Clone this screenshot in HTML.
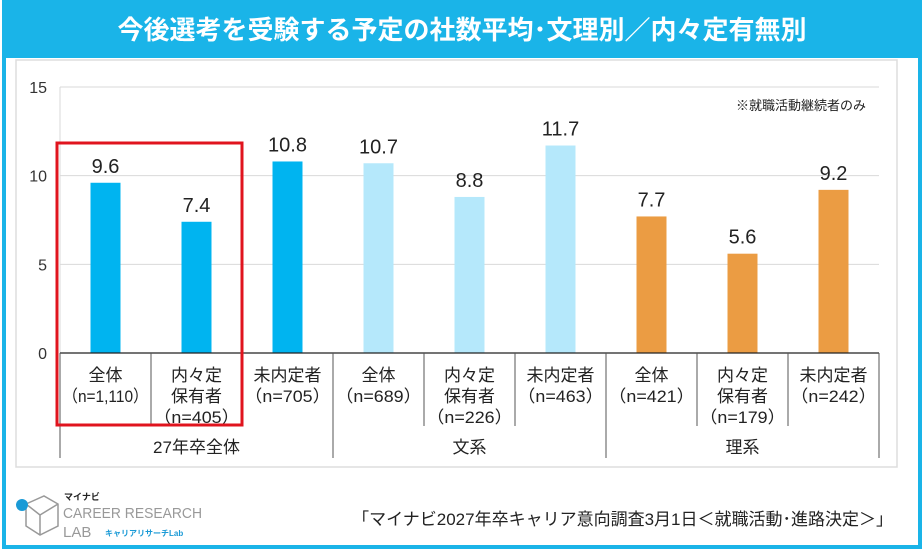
<!DOCTYPE html>
<html><head><meta charset="utf-8"><style>
body{margin:0;width:922px;height:555px;overflow:hidden;background:#fff;font-family:"Liberation Sans","Noto Sans CJK JP",sans-serif;}
#frame{position:absolute;left:2px;top:0;width:912px;height:545px;border:4px solid #1ab4e8;border-top:none;background:#fff;}
#title{position:absolute;left:2px;top:0;width:920px;height:58px;background:#1ab4e8;color:#fff;font-size:26px;font-weight:bold;text-align:center;line-height:60px;}
svg text{font-family:"Liberation Sans","Noto Sans CJK JP",sans-serif;}
</style></head><body>
<div id="frame"></div>
<div id="title">今後選考を受験する予定の社数平均･文理別／内々定有無別</div>
<svg id="c" width="922" height="555" style="position:absolute;left:0;top:0"></svg>
<script>
const categories=["全体|（n=1,110）","内々定|保有者|（n=405）","未内定者|（n=705）","全体|（n=689）","内々定|保有者|（n=226）","未内定者|（n=463）","全体|（n=421）","内々定|保有者|（n=179）","未内定者|（n=242）"];
const values=[9.6,7.4,10.8,10.7,8.8,11.7,7.7,5.6,9.2];
const groups=["27年卒全体","文系","理系"];
const yTicks=[0,5,10,15];
const colors=["#00b4f0","#00b4f0","#00b4f0","#b5e8fb","#b5e8fb","#b5e8fb","#eb9c43","#eb9c43","#eb9c43"];
const svg=document.getElementById('c');const NS="http://www.w3.org/2000/svg";
function mk(t,a,p){const e=document.createElementNS(NS,t);for(const k in a)e.setAttribute(k,a[k]);(p||svg).appendChild(e);return e;}
const x0=60,x1=879,y0=353,y15=87,bw=(x1-x0)/categories.length;
const y=v=>y0-(v/15)*(y0-y15);
const xc=i=>x0+bw*(i+0.5);
let box=mk('rect',{x:16,y:60,width:881,height:407,fill:'#fff',stroke:'#ddd','stroke-width':1.5});

yTicks.forEach(t=>{
 if(t>0){let g=mk('line',{x1:x0,x2:x1,y1:y(t),y2:y(t),stroke:'#d9d9d9','stroke-width':1});}
 let l=mk('text',{x:47,y:y(t)+6,'text-anchor':'end','font-size':16,fill:'#333'});l.textContent=t;
 
});
let yax=mk('line',{x1:x0,x2:x0,y1:y15,y2:y0,stroke:'#d9d9d9'});
values.forEach((v,i)=>{
 let r=mk('rect',{x:xc(i)-15,y:y(v),width:30,height:y0-y(v),fill:colors[i]});
 
 let t=mk('text',{x:xc(i),y:y(v)-10,'text-anchor':'middle','font-size':20,fill:'#222'});t.textContent=v.toFixed(1);
 
 categories[i].split('|').forEach((s,j)=>{
  let c=mk('text',{x:xc(i),y:381+j*21,'text-anchor':'middle','font-size':17,fill:'#222'});c.textContent=s;
  c.setAttribute('textLength',s.startsWith('（')?'86':String(s.length*17));
  c.setAttribute('lengthAdjust','spacingAndGlyphs');
  
 });
});
let xax=mk('line',{x1:x0,x2:x1,y1:y0,y2:y0,stroke:'#222','stroke-width':1.2});
for(let i=0;i<=categories.length;i++){
 const big=i%3===0;
 let l=mk('line',{x1:x0+bw*i,x2:x0+bw*i,y1:y0,y2:big?458:426,stroke:'#555','stroke-width':1});
 
}
groups.forEach((g,k)=>{
 let t=mk('text',{x:x0+bw*(3*k+1.5),y:453,'text-anchor':'middle','font-size':17,fill:'#222'});t.textContent=g;
 
});
let hl=mk('rect',{x:57,y:143,width:185,height:282,fill:'none',stroke:'#e0141e','stroke-width':3});

let note=mk('text',{x:866,y:110,'text-anchor':'end','font-size':13,fill:'#222'});note.textContent='※就職活動継続者のみ';

let src=mk('text',{x:893,y:525,'text-anchor':'end','font-size':17,fill:'#222'});src.textContent='「マイナビ2027年卒キャリア意向調査3月1日＜就職活動･進路決定＞」';

let lg=mk('g',{});
mk('path',{d:'M26 504 L44 496 L58 504 L58 526 L40 535 L26 526 Z M40 515 L58 504 M40 515 L40 535 M40 515 L26 504',fill:'none',stroke:'#999','stroke-width':1.5},lg);
mk('circle',{cx:22,cy:505,r:6,fill:'#1a9ad6'},lg);
let t1=mk('text',{x:64,y:500,'font-size':9,'font-weight':'bold',fill:'#222'},lg);t1.textContent='マイナビ';
let t2=mk('text',{x:63,y:518,'font-size':15,fill:'#999',textLength:139,lengthAdjust:'spacingAndGlyphs'},lg);t2.textContent='CAREER RESEARCH';
let t3=mk('text',{x:63,y:537,'font-size':15,fill:'#999'},lg);t3.textContent='LAB';
let t4=mk('text',{x:105,y:536,'font-size':8,'font-weight':'bold',fill:'#1a9ad6'},lg);t4.textContent='キャリアリサーチLab';
</script>
</body></html>
